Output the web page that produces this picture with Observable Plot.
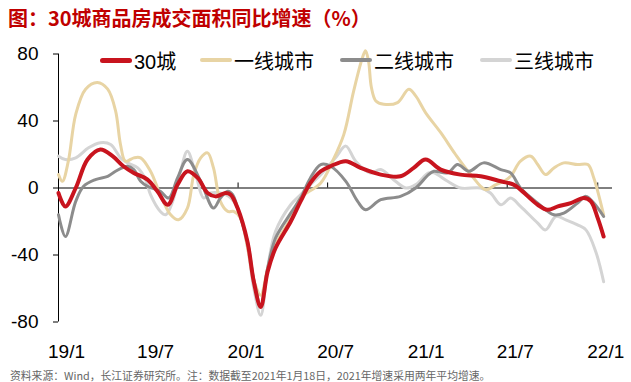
<!DOCTYPE html>
<html>
<head>
<meta charset="utf-8">
<script src="https://cdn.jsdelivr.net/npm/d3@7"></script>
<script src="https://cdn.jsdelivr.net/npm/@observablehq/plot@0.6"></script>
<style>
  html, body { margin: 0; padding: 0; background: #fff; }
  #wrap { position: relative; width: 631px; height: 382px; overflow: hidden; font-family: "Liberation Sans", "Noto Sans CJK SC", sans-serif; }
  #title { position: absolute; left: 8px; top: 3px; font-family: "Noto Sans CJK SC", sans-serif; font-weight: bold; font-size: 20px; color: #c00000; white-space: nowrap; letter-spacing: 0px; }
  #chart { position: absolute; left: 0; top: 38px; }
  #legend { position: absolute; left: 0; top: 48px; height: 24px; width: 631px; }
  .item { position: absolute; top: 0; height: 24px; display: flex; align-items: center; font-size: 20px; color: #000; font-family: "Liberation Sans", "Noto Sans CJK SC", sans-serif; white-space: nowrap; }
  .sw { display: inline-block; width: 32px; border-radius: 3px; margin-right: 2px; }
  #caption { position: absolute; left: 10px; top: 370px; line-height: 1; font-family: "Noto Sans CJK SC", sans-serif; font-size: 10.8px; color: #666; white-space: nowrap; }
</style>
</head>
<body>
<div id="wrap">
  <div id="title"></div>
  <div id="chart"></div>
  <div id="legend"></div>
  <div id="caption"></div>
</div>
<script>
const titleText = "图：30城商品房成交面积同比增速（%）";
const captionText = "资料来源：Wind，长江证券研究所。注：数据截至2021年1月18日，2021年增速采用两年平均增速。";

const seriesNames = ["30城", "一线城市", "二线城市", "三线城市"];
const seriesColors = ["#c8141e", "#e8d4a4", "#8c8c8c", "#d4d4d4"];

const yTicks = [-80, -40, 0, 40, 80];
const xTickDates = ["2019-01-01", "2019-07-01", "2020-01-01", "2020-07-01", "2021-01-01", "2021-07-01", "2022-01-01"];
const xTickLabels = ["19/1", "19/7", "20/1", "20/7", "21/1", "21/7", "22/1"];

// 30城
const datesC30 = ["2019-01-01","2019-01-15","2019-02-05","2019-03-01","2019-03-27","2019-04-21","2019-05-13","2019-06-03","2019-07-01","2019-07-21","2019-08-11","2019-08-31","2019-09-20","2019-10-11","2019-10-31","2019-11-16","2019-12-07","2019-12-17","2019-12-31","2020-01-20","2020-02-02","2020-02-16","2020-03-01","2020-03-17","2020-04-17","2020-05-07","2020-05-27","2020-06-17","2020-07-07","2020-08-07","2020-09-06","2020-10-17","2020-11-26","2020-12-23","2021-01-16","2021-02-16","2021-03-28","2021-05-08","2021-06-18","2021-07-14","2021-07-28","2021-09-01","2021-09-21","2021-10-12","2021-11-07","2021-12-04","2021-12-18","2022-01-01","2022-01-13"];
const valuesC30 = [-3,-11,0,17,23,19,13,9,5,-2,-10,2,10,6,-3,-5,-3,-4,-12,-32,-56,-71,-50,-36,-20,-8,3,10,13,16,12,8,7,12,17,11,8,7,4,2,-1,-10,-13,-11,-9,-6,-8,-18,-29];

// 一线城市
const datesT1 = ["2019-01-01","2019-01-09","2019-01-21","2019-02-05","2019-02-25","2019-03-21","2019-04-11","2019-04-27","2019-05-07","2019-05-17","2019-06-03","2019-06-17","2019-07-07","2019-07-27","2019-08-17","2019-09-02","2019-09-20","2019-10-03","2019-10-17","2019-10-31","2019-11-12","2019-11-26","2019-12-11","2019-12-23","2020-01-06","2020-01-20","2020-02-02","2020-02-16","2020-03-01","2020-03-17","2020-04-17","2020-05-07","2020-06-17","2020-07-11","2020-08-03","2020-08-23","2020-09-10","2020-09-16","2020-09-22","2020-09-28","2020-10-07","2020-10-23","2020-11-20","2020-12-13","2020-12-27","2021-01-16","2021-02-16","2021-03-18","2021-04-18","2021-05-18","2021-06-08","2021-06-24","2021-07-08","2021-07-28","2021-08-18","2021-09-01","2021-09-17","2021-10-04","2021-10-24","2021-11-21","2021-12-12","2021-12-24","2022-01-01","2022-01-13"];
const valuesT1 = [8,4,16,44,59,63,59,46,26,16,18,18,10,-4,-16,-19,-12,8,18,21,12,-8,-14,-14,-18,-35,-55,-64,-48,-34,-18,-6,3,16,32,58,78,82,76,60,52,50,51,59,55,45,33,20,8,-1,2,4,7,16,19,14,8,12,15,14,14,6,-2,-16];

// 二线城市
const datesT2 = ["2019-01-01","2019-01-15","2019-02-05","2019-02-21","2019-03-17","2019-04-11","2019-04-27","2019-05-21","2019-06-03","2019-06-17","2019-07-01","2019-07-27","2019-08-13","2019-08-31","2019-09-20","2019-10-17","2019-11-12","2019-11-26","2019-12-11","2019-12-21","2019-12-31","2020-01-20","2020-02-02","2020-02-16","2020-03-01","2020-03-17","2020-04-17","2020-05-07","2020-05-27","2020-06-17","2020-07-07","2020-08-07","2020-08-31","2020-09-16","2020-10-17","2020-11-26","2020-12-27","2021-01-22","2021-02-02","2021-03-02","2021-03-22","2021-04-14","2021-05-14","2021-06-18","2021-07-08","2021-07-28","2021-09-01","2021-10-04","2021-10-24","2021-11-21","2021-12-08","2021-12-24","2022-01-13"];
const valuesT2 = [-16,-29,-8,1,5,7,10,13,11,4,1,-2,-6,6,17,4,-12,-6,-2,-4,-12,-32,-55,-70,-48,-30,-15,-6,6,14,13,4,-8,-13,-7,-5,0,8,10,9,14,10,15,11,9,0,-9,-16,-15,-9,-5,-9,-17];

// 三线城市
const datesT3 = ["2019-01-01","2019-01-15","2019-02-05","2019-03-03","2019-03-27","2019-04-17","2019-05-07","2019-05-21","2019-06-11","2019-06-27","2019-07-07","2019-07-27","2019-08-07","2019-08-21","2019-09-06","2019-09-20","2019-10-07","2019-10-23","2019-11-06","2019-11-26","2019-12-13","2019-12-31","2020-01-20","2020-02-02","2020-02-16","2020-03-01","2020-03-17","2020-04-17","2020-05-07","2020-05-27","2020-06-17","2020-07-17","2020-08-07","2020-08-27","2020-09-26","2020-10-17","2020-11-16","2020-12-07","2020-12-27","2021-01-22","2021-02-02","2021-03-02","2021-03-28","2021-05-08","2021-05-28","2021-06-18","2021-07-08","2021-07-28","2021-09-01","2021-09-17","2021-10-08","2021-10-28","2021-11-21","2021-12-08","2021-12-28","2022-01-13"];
const valuesT3 = [19,17,18,24,27,26,18,15,12,5,-4,-14,-16,-8,10,22,8,-6,-3,-3,-5,-12,-35,-60,-76,-48,-26,-10,-4,2,8,18,25,16,9,11,4,0,2,9,9,4,0,0,-3,-10,-6,-11,-21,-25,-17,-19,-22,-25,-38,-56];

const parse = d3.utcParse("%Y-%m-%d");
function rows(dates, values, name) {
  return dates.map((d, i) => ({date: parse(d), value: values[i], series: name}));
}
const s30 = rows(datesC30, valuesC30, seriesNames[0]);
const s1 = rows(datesT1, valuesT1, seriesNames[1]);
const s2 = rows(datesT2, valuesT2, seriesNames[2]);
const s3 = rows(datesT3, valuesT3, seriesNames[3]);

const tickDates = xTickDates.map(parse);
const xStart = parse("2019-01-01");
const xEnd = parse("2022-01-31");

document.getElementById("title").textContent = titleText;
document.getElementById("caption").textContent = captionText;

const chart = Plot.plot({
  width: 631,
  height: 324,
  marginTop: 15.5,
  marginBottom: 40.5,
  marginLeft: 58,
  marginRight: 19,
  x: {type: "utc", domain: [xStart, xEnd]},
  y: {domain: [-80, 80]},
  style: {fontFamily: "Liberation Sans, Arial, sans-serif", fontSize: "19px", color: "#000", background: "transparent"},
  marks: [
    Plot.axisY({ticks: yTicks, tickSize: 5, tickPadding: 15, fontSize: 19, tickFormat: d => String(d), label: null, stroke: "#000"}),
    Plot.axisX({ticks: tickDates, tickSize: 0, tickPadding: 22, fontSize: 19, dx: 8, label: null,
      tickFormat: d => xTickLabels[tickDates.findIndex(t => +t === +d)]}),
    Plot.ruleX([xStart], {y1: -80, y2: 80, stroke: "#000", strokeWidth: 1}),
    Plot.ruleY([0], {x1: xStart, x2: xEnd, stroke: "#000", strokeWidth: 1}),
    Plot.ruleX(tickDates.slice(1), {y1: 0, y2: 3, stroke: "#000", strokeWidth: 1}),
    Plot.line(s3, {x: "date", y: "value", stroke: seriesColors[3], strokeWidth: 3, curve: "catmull-rom"}),
    Plot.line(s1, {x: "date", y: "value", stroke: seriesColors[1], strokeWidth: 3, curve: "catmull-rom"}),
    Plot.line(s2, {x: "date", y: "value", stroke: seriesColors[2], strokeWidth: 3, curve: "catmull-rom"}),
    Plot.line(s30, {x: "date", y: "value", stroke: seriesColors[0], strokeWidth: 4, curve: "catmull-rom"})
  ]
});
document.getElementById("chart").appendChild(chart);

// legend
const legendLefts = [100, 200, 340, 480];
const legend = document.getElementById("legend");
seriesNames.forEach((name, i) => {
  const item = document.createElement("div");
  item.className = "item";
  item.style.left = legendLefts[i] + "px";
  const sw = document.createElement("span");
  sw.className = "sw";
  sw.style.background = seriesColors[i];
  sw.style.height = (i === 0 ? 5 : 4) + "px";
  const tx = document.createElement("span");
  tx.textContent = name;
  item.appendChild(sw);
  item.appendChild(tx);
  legend.appendChild(item);
});
</script>
</body>
</html>
